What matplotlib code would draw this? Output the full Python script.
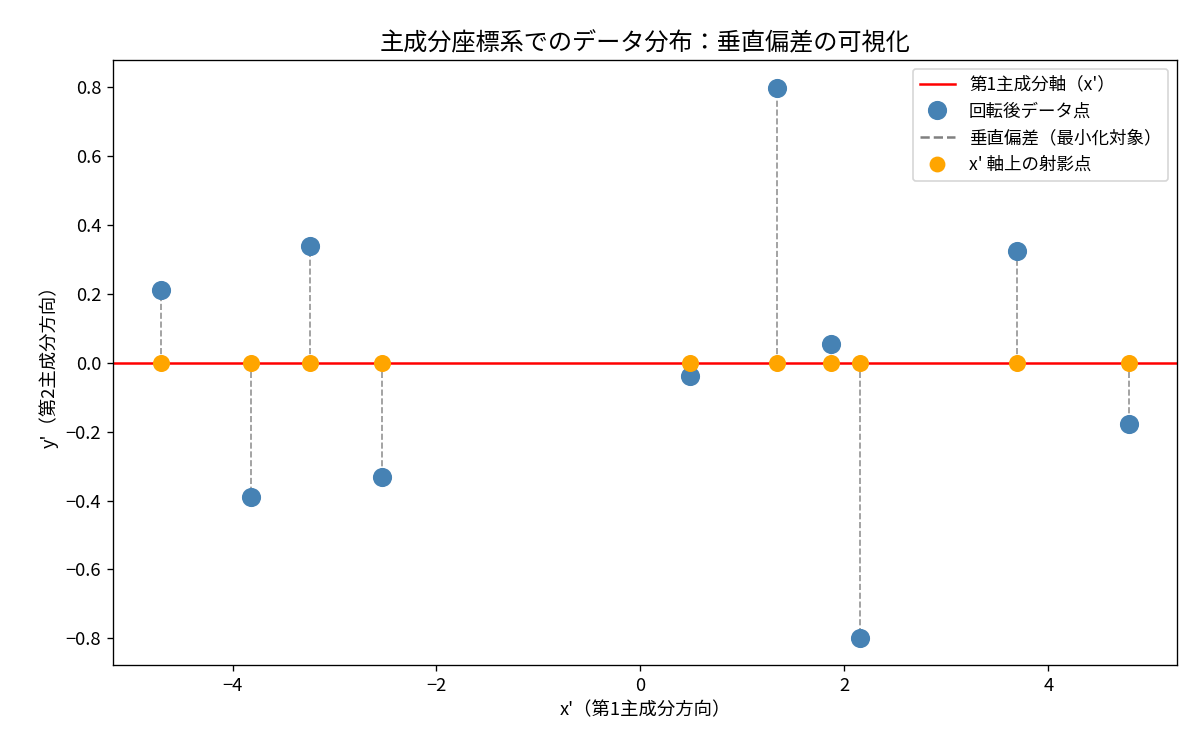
import numpy as np
import matplotlib
matplotlib.use("Agg")
import matplotlib.pyplot as plt
from matplotlib.lines import Line2D

plt.rcParams['font.family'] = ['Noto Sans CJK JP', 'DejaVu Sans']

# 回転後の座標 (x', y')
x_rot = [-4.70, -3.82, -3.24, -2.53, 0.49, 1.34, 1.87, 2.15, 3.69, 4.79]
y_rot = [0.212, -0.390, 0.339, -0.333, -0.040, 0.798, 0.055, -0.798, 0.324, -0.178]

fig, ax = plt.subplots(figsize=(10, 6.25), dpi=120)
fig.subplots_adjust(left=0.094, right=0.981, top=0.92, bottom=0.113)

ax.axhline(0, color='red', lw=1.5, zorder=1)
ax.scatter(x_rot, y_rot, s=110, color='steelblue', zorder=3)
for xv, yv in zip(x_rot, y_rot):
    ax.plot([xv, xv], [0, yv], color='gray', ls='--', lw=1, alpha=0.85, zorder=2)
ax.scatter(x_rot, np.zeros(len(x_rot)), s=85, color='orange', zorder=4)

handles = [
    Line2D([], [], color='red', lw=1.5),
    Line2D([], [], ls='', marker='o', ms=10.5, color='steelblue'),
    Line2D([], [], color='gray', ls='--', lw=1.5),
    Line2D([], [], ls='', marker='o', ms=8.5, color='orange'),
]
labels = ["第1主成分軸（x'）", '回転後データ点', '垂直偏差（最小化対象）', "x' 軸上の射影点"]
ax.legend(handles, labels, loc='upper right', fontsize=10.5)

ax.set_title('主成分座標系でのデータ分布：垂直偏差の可視化', fontsize=14.5)
ax.set_xlabel("x'（第1主成分方向）", fontsize=11)
ax.set_ylabel("y'（第2主成分方向）", fontsize=11)
ax.tick_params(labelsize=11)

plt.savefig('out.png')
